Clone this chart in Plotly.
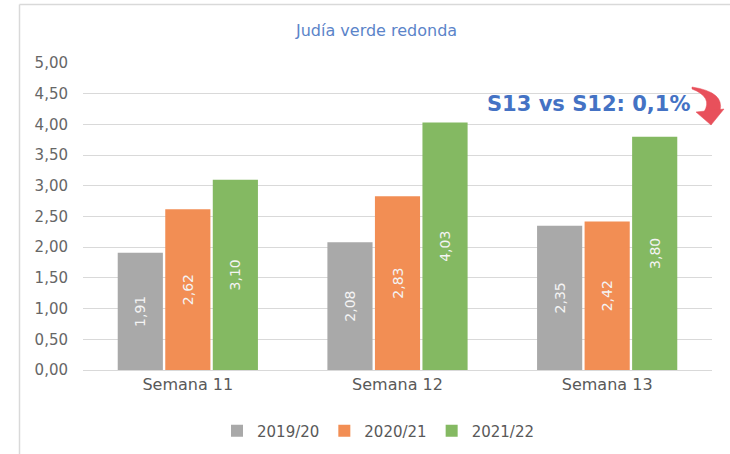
import plotly.graph_objects as go

categories = ["Semana 11", "Semana 12", "Semana 13"]
series_names = ["2019/20", "2020/21", "2021/22"]
v_2019 = [1.91, 2.08, 2.35]
v_2020 = [2.62, 2.83, 2.42]
v_2021 = [3.10, 4.03, 3.80]
colors = ["#A9A9A9", "#F28E54", "#84B962"]
y_ticks = [0, 0.5, 1, 1.5, 2, 2.5, 3, 3.5, 4, 4.5, 5]

W, H = 730, 454
L, R, T, B = 83, 18, 63, 84
PW, PH = W - L - R, H - T - B

def px(x):
    return (x - L) / PW

def py(y):
    return (H - B - y) / PH

FONT = "DejaVu Sans"
fig = go.Figure()
for name, vals, col in zip(series_names, [v_2019, v_2020, v_2021], colors):
    fig.add_trace(go.Bar(
        x=categories, y=vals, name=name, marker_color=col,
        marker_line_width=0,
        text=[f"{v:.2f}".replace(".", ",") for v in vals],
        textposition="inside", textangle=-90, insidetextanchor="middle",
        textfont=dict(family=FONT, size=14, color="#F4F4F4"),
        hoverinfo="skip",
    ))

shapes = [
    dict(type="line", xref="paper", yref="paper", x0=px(19.5), x1=px(19.5), y0=py(4.5), y1=py(454),
         line=dict(color="#D9D9D9", width=1.5)),
    dict(type="line", xref="paper", yref="paper", x0=px(19.5), x1=px(730), y0=py(4.5), y1=py(4.5),
         line=dict(color="#D9D9D9", width=1.5)),
]
# curved red arrow
body = (f"M {px(692)},{py(87)} Q {px(725)},{py(92)} {px(720)},{py(111)} "
        f"L {px(704)},{py(112)} Q {px(713)},{py(97)} {px(692)},{py(89)} Z")
head = f"M {px(696)},{py(112)} L {px(724)},{py(109)} L {px(711)},{py(125)} Z"
for p in (body, head):
    shapes.append(dict(type="path", xref="paper", yref="paper", path=p,
                       fillcolor="#E8505B", line=dict(color="#E8505B", width=0.5)))

fig.update_layout(
    width=W, height=H,
    margin=dict(l=L, r=R, t=T, b=B, autoexpand=False),
    paper_bgcolor="white", plot_bgcolor="white",
    barmode="group", bargap=0.32, bargroupgap=0.05,
    xaxis=dict(showgrid=False, showline=True, linecolor="#D9D9D9", linewidth=1,
               tickfont=dict(family=FONT, size=16, color="#595959"), ticks=""),
    yaxis=dict(range=[0, 5], tickvals=y_ticks,
               ticktext=[f"{v:.2f}".replace(".", ",") for v in y_ticks],
               showgrid=True, gridcolor="#D9D9D9", gridwidth=1, zeroline=False,
               tickfont=dict(family=FONT, size=15, color="#666666"),
               ticklabelstandoff=14, ticks=""),
    legend=dict(orientation="h", x=px(378), xanchor="center", y=py(431), yanchor="middle",
                font=dict(family=FONT, size=15, color="#595959"), itemwidth=30,
                traceorder="normal"),
    showlegend=True,
    shapes=shapes,
    annotations=[
        dict(text="Judía verde redonda", xref="paper", yref="paper",
             x=px(376), y=py(31), xanchor="center", yanchor="middle", showarrow=False,
             font=dict(family=FONT, size=16, color="#5B84C9")),
        dict(text="<b>S13 vs S12: 0,1%</b>", xref="paper", yref="paper",
             x=px(588), y=py(104), xanchor="center", yanchor="middle",
             showarrow=False, font=dict(family=FONT, size=21, color="#4472C4"))],
)
fig.write_html("out.html", config={"displayModeBar": False},
               post_script="document.body.style.margin='0';")
